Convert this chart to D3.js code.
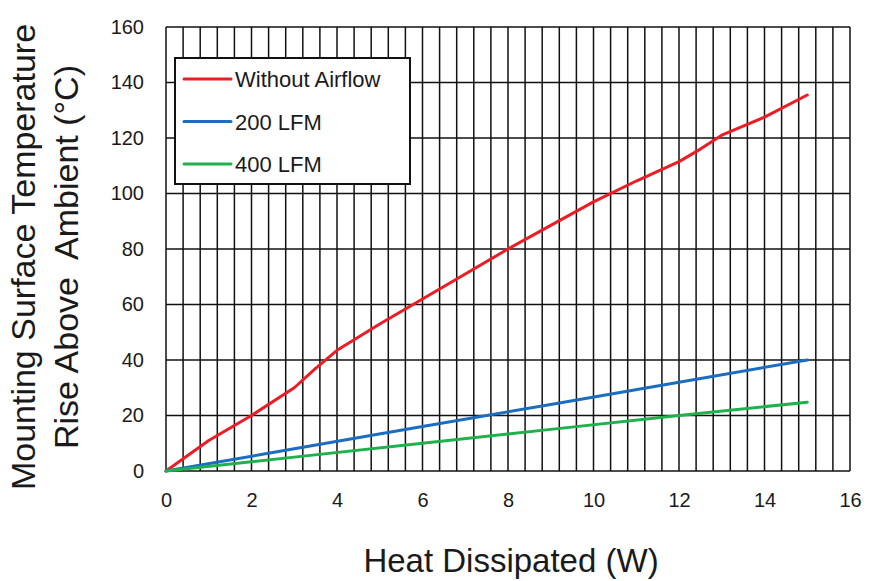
<!DOCTYPE html>
<html lang="en">
<head>
    <meta charset="UTF-8">
    <title>Mounting surface temperature rise</title>
    <script src="https://d3js.org/d3.v7.min.js"></script>
    <style>
        body {margin: 0; background: white;}
        text {font-family: "Liberation Sans", Arial, sans-serif; fill: #1a1a1a;}
    </style>
</head>
<body>
<script>
    const width = 877;
    const height = 581;

    // heat dissipated (W)
    const heatRed   = [0, 1, 2, 3, 3.5, 4, 5, 6, 7, 8, 9, 10, 11, 12, 12.5, 13, 14, 15];
    const noAirflow = [0, 11, 20, 30, 37, 43.5, 53, 62, 71, 80, 88.5, 97, 104.5, 111.5, 116, 121, 127.5, 135.5];
    const heat      = [0, 3, 6, 9, 12, 15];
    const lfm200    = [0, 8, 16, 24, 32, 40];
    const lfm400    = [0, 5, 10, 15, 20, 24.8];

    const xTicks = [0, 2, 4, 6, 8, 10, 12, 14, 16];
    const yTicks = [0, 20, 40, 60, 80, 100, 120, 140, 160];
    const seriesNames = ["Without Airflow", "200 LFM", "400 LFM"];
    const colors = ["#ed1c24", "#1a6dbf", "#1fb14b"];

    const margin = {top: 27, right: 27, bottom: 110, left: 166};
    const w = width - margin.left - margin.right;
    const h = height - margin.top - margin.bottom;

    const svg = d3.select("body").append("svg")
            .attr("width", width).attr("height", height);

    const g = svg.append("g")
            .attr("transform", `translate(${margin.left},${margin.top})`);

    const x = d3.scaleLinear().domain([0, 16]).range([0, w]);
    const y = d3.scaleLinear().domain([0, 160]).range([h, 0]);

    // grid: verticals every 0.4 W, horizontals every 20
    g.append("g").selectAll("line")
            .data(d3.range(0, 41).map(i => i * 0.4))
            .join("line")
            .attr("x1", d => x(d)).attr("x2", d => x(d))
            .attr("y1", 0).attr("y2", h)
            .style("stroke", "#111").style("stroke-width", 1.5);

    g.append("g").selectAll("line")
            .data(yTicks)
            .join("line")
            .attr("x1", 0).attr("x2", w)
            .attr("y1", d => y(d)).attr("y2", d => y(d))
            .style("stroke", "#111").style("stroke-width", 1.5);

    // axes (labels only)
    const xAxis = g.append("g")
            .attr("transform", `translate(0,${h})`)
            .call(d3.axisBottom(x).tickValues(xTicks).tickSize(0).tickPadding(22));
    xAxis.select(".domain").remove();
    xAxis.selectAll("text").style("font-size", "20px").style("font-family", "Liberation Sans");

    const yAxis = g.append("g")
            .call(d3.axisLeft(y).tickValues(yTicks).tickSize(0).tickPadding(22));
    yAxis.select(".domain").remove();
    yAxis.selectAll("text").style("font-size", "20px").style("font-family", "Liberation Sans");

    // lines
    const line = d3.line()
            .x(d => x(d[0]))
            .y(d => y(d[1]));

    const series = [
        d3.zip(heatRed, noAirflow),
        d3.zip(heat, lfm200),
        d3.zip(heat, lfm400)
    ];

    g.selectAll("path.series")
            .data(series)
            .join("path")
            .attr("class", "series")
            .attr("d", line)
            .style("fill", "none")
            .style("stroke", (d, i) => colors[i])
            .style("stroke-width", 3)
            .style("stroke-linejoin", "round")
            .style("stroke-linecap", "round");

    // legend
    const legend = svg.append("g").attr("transform", "translate(175,58)");
    legend.append("rect")
            .attr("width", 235).attr("height", 126)
            .style("fill", "white")
            .style("stroke", "#111").style("stroke-width", 2);

    const item = legend.selectAll("g.item")
            .data(seriesNames)
            .join("g")
            .attr("class", "item")
            .attr("transform", (d, i) => `translate(0,${21 + i * 42.5})`);
    item.append("line")
            .attr("x1", 9).attr("x2", 56)
            .style("stroke", (d, i) => colors[i])
            .style("stroke-width", 3)
            .style("stroke-linecap", "round");
    item.append("text")
            .attr("x", 60).attr("y", 8)
            .style("font-size", "22px")
            .text(d => d);

    // axis titles
    svg.append("text")
            .attr("x", 511).attr("y", 572)
            .attr("text-anchor", "middle")
            .style("font-size", "33px")
            .text("Heat Dissipated (W)");

    const yTitle = svg.append("text")
            .attr("transform", "translate(0,257) rotate(-90)")
            .attr("text-anchor", "middle")
            .style("font-size", "34px")
            .style("white-space", "pre");
    yTitle.append("tspan").attr("x", 0).attr("y", 35).text("Mounting Surface Temperature");
    yTitle.append("tspan").attr("x", 0).attr("y", 78).text("Rise Above  Ambient (°C)");
</script>
</body>
</html>
